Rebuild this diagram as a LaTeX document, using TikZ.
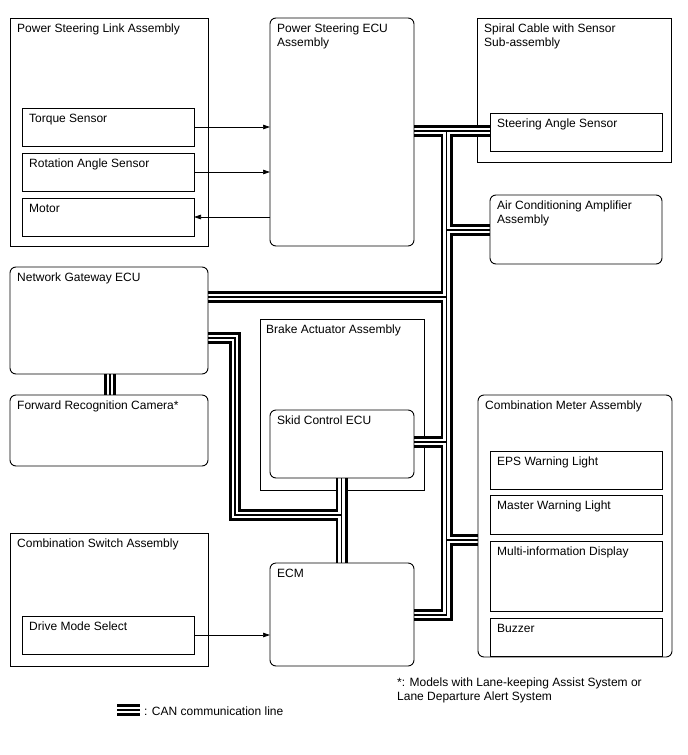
\documentclass[tikz,border=0pt]{standalone}
\usepackage{fontspec}
\setmainfont{Liberation Sans}
\usetikzlibrary{arrows.meta,calc}
\pgfdeclarelayer{bg}
\pgfdeclarelayer{can}
\pgfsetlayers{bg,can,main}
\tikzset{
 box/.style={draw=black, line width=0.9pt, rectangle, inner sep=0pt, outer sep=0pt},
 rbox/.style={box, rounded corners=6pt},
 lbl/.style={inner sep=0pt, anchor=north west, align=left, font=\fontsize{12}{14}\selectfont},
 sig/.style={line width=0.7pt, -{Triangle[length=7pt,width=4.5pt]}},
 canA/.style={line width=12pt, black, line join=miter},
 canB/.style={line width=6.2pt, white, line join=miter},
 canC/.style={line width=1.9pt, black, line join=miter},
}
\newcommand\mkbox[6]{\node[#6, minimum width=#4pt, minimum height=#5pt, anchor=north west] (#1) at (#2,#3) {};}
\newcommand\mklbl[2]{\node[lbl] (#1-t) at ([xshift=7pt,yshift=-6pt]#1.north west) {#2};}
\newcommand\canpaths[1]{%
 \draw[#1] (jt -| psecu.east) -- (jt -| sas.west);
 \draw[#1] (jt) -- (jecm) -- (jecm -| ecm.east);
 \draw[#1] (jac) -- (jac -| ac.west);
 \draw[#1] (jng) -- (jng -| ng.east);
 \draw[#1] (jsk) -- (jsk -| skid.east);
 \draw[#1] (jcm) -- (jcm -| cm.west);
 \draw[#1] (cam |- ng.south) -- (cam |- frc.north);
 \draw[#1] (lb1 -| ng.east) -- (lb1) -- (lb2) -- (lb3);
 \draw[#1] (lb3 |- skid.south) -- (lb3 |- ecm.north);
 \draw[#1] (lg1) -- (lg2);
}
\begin{document}
\begin{tikzpicture}[x=1pt,y=-1pt]
\useasboundingbox (0,0) rectangle (688,755);
\begin{pgfonlayer}{bg}
\fill[white] (0,0) rectangle (688,755);
\end{pgfonlayer}
% boxes
\mkbox{psla}{10}{18}{198}{228}{box}
\mkbox{ts}{22}{108}{172}{38}{box}
\mkbox{ras}{22}{153}{172}{38}{box}
\mkbox{mot}{22}{198}{172}{38}{box}
\mkbox{psecu}{270}{18}{144}{228}{rbox}
\begin{pgfonlayer}{bg}
\mkbox{spc}{477}{18}{194}{144}{box}
\mkbox{bact}{260}{319}{164}{171}{box}
\end{pgfonlayer}
\mkbox{sas}{490}{113}{172}{38}{box}
\mkbox{ac}{490}{195}{172}{69}{rbox}
\mkbox{ng}{10}{267}{198}{107}{rbox}
\mkbox{frc}{10}{395}{198}{71}{rbox}
\mkbox{skid}{270}{410}{144}{68}{rbox}
\mkbox{cm}{478}{395}{194}{262}{rbox}
\mkbox{eps}{490}{451}{172}{38}{box}
\mkbox{mwl}{490}{495}{172}{39}{box}
\mkbox{mid}{490}{541}{172}{70}{box}
\mkbox{buz}{490}{618}{172}{38}{box}
\mkbox{csa}{10}{533}{198}{133}{box}
\mkbox{dms}{22}{616}{172}{38}{box}
\mkbox{ecm}{270}{563}{144}{103}{rbox}
% labels
\mklbl{psla}{Power Steering Link Assembly}
\mklbl{ts}{Torque Sensor}
\mklbl{ras}{Rotation Angle Sensor}
\mklbl{mot}{Motor}
\mklbl{psecu}{Power Steering ECU\\Assembly}
\mklbl{spc}{Spiral Cable with Sensor\\Sub-assembly}
\mklbl{sas}{Steering Angle Sensor}
\mklbl{ac}{Air Conditioning Amplifier\\Assembly}
\mklbl{ng}{Network Gateway ECU}
\mklbl{frc}{Forward Recognition Camera*}
\node[lbl] (bact-t) at ([xshift=6pt,yshift=-6pt]bact.north west) {Brake Actuator Assembly};
\mklbl{skid}{Skid Control ECU}
\mklbl{cm}{Combination Meter Assembly}
\mklbl{eps}{EPS Warning Light}
\mklbl{mwl}{Master Warning Light}
\mklbl{mid}{Multi-information Display}
\mklbl{buz}{Buzzer}
\mklbl{csa}{Combination Switch Assembly}
\mklbl{dms}{Drive Mode Select}
\mklbl{ecm}{ECM}
% signal arrows
\draw[sig] (ts.east) -- (ts.east -| psecu.west);
\draw[sig] (ras.east) -- (ras.east -| psecu.west);
\draw[sig] (mot.east -| psecu.west) -- (mot.east);
\draw[sig] (dms.east) -- (dms.east -| ecm.west);
% CAN coordinates
\coordinate (jt) at (446.5,131);
\coordinate (jac) at (446.5,230);
\coordinate (jng) at (446.5,297);
\coordinate (jsk) at (446.5,442);
\coordinate (jcm) at (446.5,540);
\coordinate (jecm) at (446.5,615);
\coordinate (lb1) at (235,338);
\coordinate (lb2) at (235,515);
\coordinate (lb3) at (341.5,515);
\coordinate (cam) at (110,385);
\coordinate (lg1) at (117,710);
\coordinate (lg2) at (140,710);
\begin{pgfonlayer}{can}
\canpaths{canA}
\canpaths{canB}
\canpaths{canC}
\end{pgfonlayer}
% legend and note
\node[lbl, anchor=west] (lgt) at (144,711) {: CAN communication line};
\node[lbl] (fn) at (397,678) {*: Models with Lane-keeping Assist System or\\Lane Departure Alert System};
\end{tikzpicture}
\end{document}
